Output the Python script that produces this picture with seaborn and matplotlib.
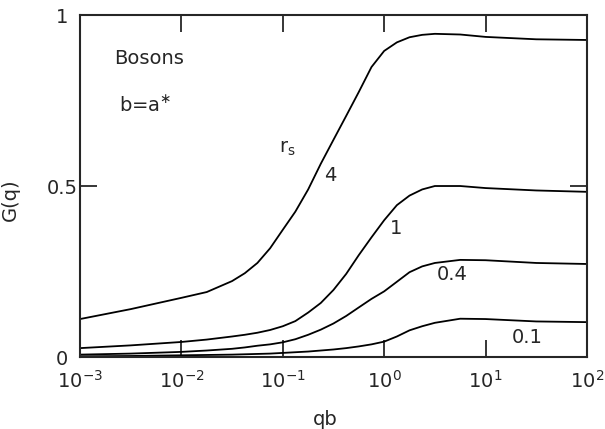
import numpy as np
import pandas as pd
import matplotlib
matplotlib.use("Agg")
import matplotlib.pyplot as plt
import seaborn as sns

# qb values (log grid)
qb = [0.001, 0.00316, 0.01, 0.0178, 0.0316, 0.0422, 0.0562, 0.075, 0.1,
      0.133, 0.178, 0.237, 0.316, 0.422, 0.562, 0.750, 1.0, 1.334, 1.778,
      2.371, 3.162, 5.623, 10.0, 31.62, 100.0]

# G(q) for each r_s
g_rs4 = [0.111, 0.140, 0.173, 0.190, 0.222, 0.245, 0.275, 0.318, 0.372,
         0.425, 0.490, 0.565, 0.635, 0.705, 0.775, 0.848, 0.895, 0.920,
         0.935, 0.942, 0.945, 0.943, 0.936, 0.929, 0.927]
g_rs1 = [0.026, 0.034, 0.044, 0.051, 0.060, 0.065, 0.071, 0.079, 0.090,
         0.105, 0.130, 0.158, 0.196, 0.243, 0.298, 0.350, 0.400, 0.444,
         0.472, 0.490, 0.500, 0.500, 0.494, 0.487, 0.483]
g_rs04 = [0.007, 0.010, 0.015, 0.019, 0.024, 0.028, 0.033, 0.037, 0.043,
          0.052, 0.065, 0.080, 0.098, 0.120, 0.145, 0.170, 0.192, 0.220,
          0.248, 0.265, 0.275, 0.284, 0.283, 0.275, 0.272]
g_rs01 = [0.002, 0.003, 0.005, 0.006, 0.007, 0.008, 0.009, 0.010, 0.012,
          0.014, 0.016, 0.019, 0.022, 0.026, 0.031, 0.037, 0.045, 0.060,
          0.078, 0.090, 0.100, 0.112, 0.111, 0.104, 0.102]

rs_labels = ["4", "1", "0.4", "0.1"]
curves = [g_rs4, g_rs1, g_rs04, g_rs01]

x_ticks = [1e-3, 1e-2, 1e-1, 1e0, 1e1, 1e2]
x_ticklabels = ["$10^{-3}$", "$10^{-2}$", "$10^{-1}$", "$10^{0}$", "$10^{1}$", "$10^{2}$"]
y_ticks = [0, 0.5, 1]
y_ticklabels = ["0", "0.5", "1"]

df = pd.concat([pd.DataFrame({"qb": qb, "G": g, "rs": lab})
                for g, lab in zip(curves, rs_labels)], ignore_index=True)

sns.set_style("ticks")
plt.rcParams["font.family"] = ["DejaVu Sans"]
plt.rcParams["mathtext.fontset"] = "dejavusans"

fig = plt.figure(figsize=(6.05, 4.29), dpi=100)
ax = fig.add_axes([0.1322, 0.1678, 0.838, 0.7972])

sns.lineplot(data=df, x="qb", y="G", hue="rs", palette=["black"] * 4,
             legend=False, linewidth=1.3, ax=ax, sort=True)

ax.set_xscale("log")
ax.set_xlim(1e-3, 1e2)
ax.set_ylim(0, 1)
ax.set_xticks(x_ticks)
ax.set_xticklabels(x_ticklabels)
ax.set_yticks(y_ticks)
ax.set_yticklabels(y_ticklabels, ha="center")
ax.minorticks_off()
ax.tick_params(axis="both", direction="in", length=12, width=1.3,
               labelsize=14, top=True, right=True)
ax.tick_params(axis="x", pad=9)
ax.tick_params(axis="y", pad=13)
for s in ax.spines.values():
    s.set_linewidth(1.5)

ax.set_xlabel("qb", fontsize=14)
ax.set_ylabel("G(q)", fontsize=14)
ax.xaxis.set_label_coords(0.483, -0.155)
ax.yaxis.set_label_coords(-0.118, 0.46)

# annotations
ax.text(0.0048, 0.874, "Bosons", fontsize=14, ha="center", va="center")
ax.text(0.0044, 0.737, "b=a$^{\\ast}$", fontsize=14, ha="center", va="center")
ax.text(0.11, 0.611, "r$_{\\rm s}$", fontsize=14, ha="center", va="center")
ax.text(0.294, 0.532, "4", fontsize=14, ha="center", va="center")
ax.text(1.32, 0.377, "1", fontsize=14, ha="center", va="center")
ax.text(4.7, 0.240, "0.4", fontsize=14, ha="center", va="center")
ax.text(25.7, 0.058, "0.1", fontsize=14, ha="center", va="center")

fig.savefig("out.png", dpi=100)
